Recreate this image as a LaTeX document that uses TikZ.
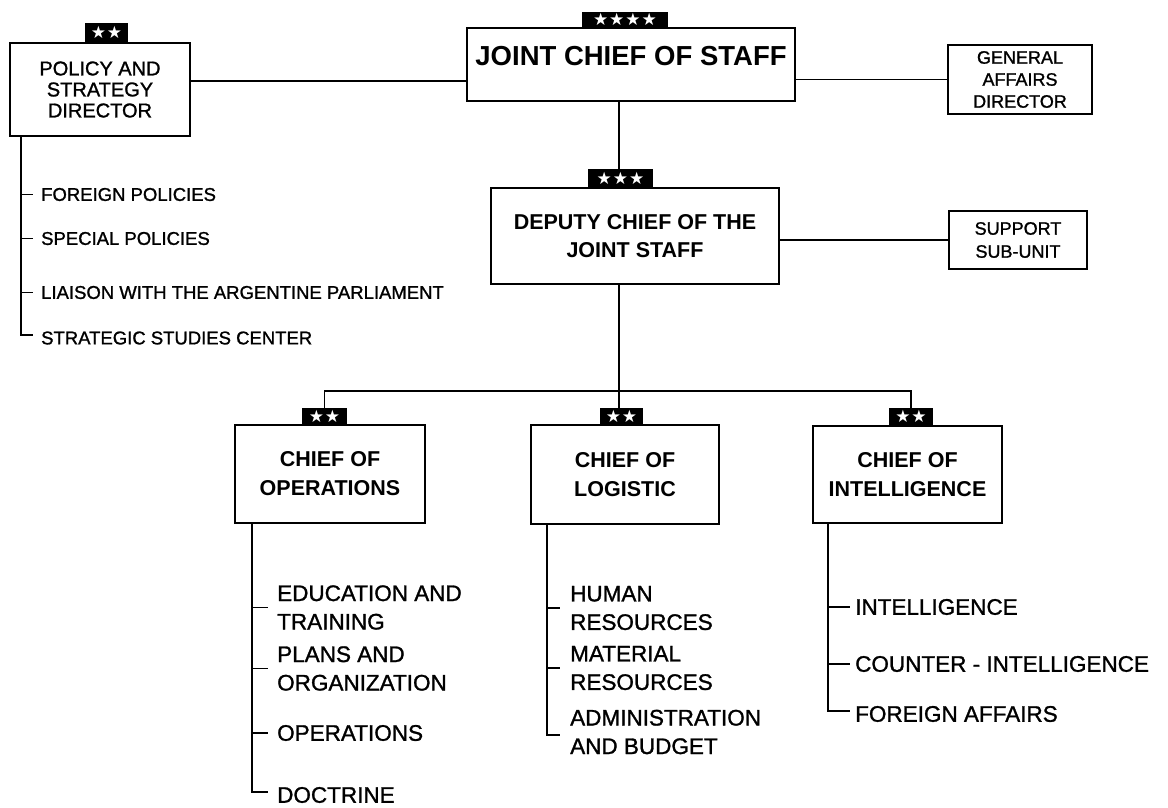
\documentclass[tikz,border=0pt]{standalone}
\usepackage{fontspec}
\setmainfont{Liberation Sans}
\newfontfamily\medfont[FakeBold=1.2]{Liberation Sans}
\newfontfamily\starfont{DejaVu Sans}
\begin{document}
\begin{tikzpicture}[x=1pt,y=-1pt,
  box/.style={draw, line width=1.6pt, fill=white, inner sep=0pt, align=center},
  badge/.style={fill=black, inner sep=0pt, text=white, anchor=south,
    font=\starfont\fontsize{17}{17}\selectfont},
  item/.style={anchor=west, inner sep=0pt, align=left},
  conn/.style={line width=1.6pt},
  thinconn/.style={line width=1.2pt},
  smalltxt/.style={font=\medfont\fontsize{18.5}{18.5}\selectfont},
  listtxt/.style={font=\medfont\fontsize{22.5}{28.5}\selectfont},
  chieftxt/.style={font=\bfseries\fontsize{21.5}{29}\selectfont}
]
\useasboundingbox (0,0) rectangle (1168,807);

% ---- badges ----
\node[badge, minimum width=43pt, minimum height=20pt] (pb) at (106.5,43) {★\kern1pt★};
\node[badge, minimum width=86pt, minimum height=16pt] (jb) at (625,28) {★\kern1pt★\kern1pt★\kern1pt★};
\node[badge, minimum width=65pt, minimum height=19pt] (db) at (620.5,188) {★\kern1pt★\kern1pt★};
\node[badge, minimum width=45pt, minimum height=17pt] (ob) at (324.5,425) {★\kern1pt★};
\node[badge, minimum width=43pt, minimum height=17pt] (lb) at (621.5,425) {★\kern1pt★};
\node[badge, minimum width=44pt, minimum height=18pt] (ib) at (911,426) {★\kern1pt★};

% ---- boxes ----
\node[box, minimum width=180pt, minimum height=93pt,
  font=\medfont\fontsize{20}{21}\selectfont] (pol) at (100,89.5) {POLICY AND\\STRATEGY\\DIRECTOR};
\node[box, minimum width=328pt, minimum height=73pt, text depth=18pt,
  font=\bfseries\fontsize{27.5}{27.5}\selectfont] (jcs) at (631,64.5) {JOINT CHIEF OF STAFF};
\node[box, minimum width=144pt, minimum height=69pt,
  font=\medfont\fontsize{18}{22}\selectfont] (ga) at (1020,79.5) {GENERAL\\AFFAIRS\\DIRECTOR};
\node[box, minimum width=288pt, minimum height=96pt,
  font=\bfseries\fontsize{21.5}{28}\selectfont] (dep) at (635,236) {DEPUTY CHIEF OF THE\\JOINT STAFF};
\node[box, minimum width=138pt, minimum height=58pt,
  font=\medfont\fontsize{18}{23}\selectfont] (sup) at (1018,240) {SUPPORT\\SUB-UNIT};
\node[box, chieftxt, minimum width=190pt, minimum height=98pt] (ops) at (330,474) {CHIEF OF\\OPERATIONS};
\node[box, chieftxt, minimum width=188pt, minimum height=99pt] (log) at (625,474.5) {CHIEF OF\\LOGISTIC};
\node[box, chieftxt, minimum width=189pt, minimum height=97pt] (int) at (907.5,474.5) {CHIEF OF\\INTELLIGENCE};

% ---- main connectors ----
\coordinate (spine) at (619,391);
\draw[conn] ([yshift=8.5pt]pol.east) -- ([yshift=8.5pt]pol.east -| jcs.west);
\draw[conn] (jcs.east |- ga.west) -- (ga.west);
\draw[conn] (jcs.south -| spine) -- (db.north -| spine);
\draw[thinconn] (dep.east |- sup.west) -- (sup.west);
\draw[conn] (dep.south -| spine) -- (lb.north -| spine);
\draw[conn] (ob.north) -- (ob.north |- spine) -- (ib.north |- spine) -- (ib.north);

% ---- policy list ----
\node[item, smalltxt] (p1) at (41,194.5) {FOREIGN POLICIES};
\node[item, smalltxt] (p2) at (41,238.5) {SPECIAL POLICIES};
\node[item, smalltxt] (p3) at (41,292.5) {LIAISON WITH THE ARGENTINE PARLIAMENT};
\node[item, smalltxt] (p4) at (41,338) {STRATEGIC STUDIES CENTER};
\coordinate (pv) at ([xshift=12pt]pol.south west);
\draw[conn] (pv) |- ([xshift=-8pt,yshift=3pt]p4.west);
\foreach \k in {p1,p2,p3}
  \draw[conn] (pv |- \k.west) -- ([xshift=-8pt]\k.west);

% ---- operations list ----
\node[item, listtxt] (o1) at (277,607.5) {EDUCATION AND\\TRAINING};
\node[item, listtxt] (o2) at (277,668.5) {PLANS AND\\ORGANIZATION};
\node[item, listtxt] (o3) at (277,733) {OPERATIONS};
\node[item, listtxt] (o4) at (277,795) {DOCTRINE};
\coordinate (ov) at ([xshift=18pt]ops.south west);
\draw[conn] (ov) |- ([xshift=-9pt,yshift=3pt]o4.west);
\foreach \k in {o1,o2,o3}
  \draw[conn] (ov |- \k.west) -- ([xshift=-9pt]\k.west);

% ---- logistic list ----
\node[item, listtxt] (l1) at (570,608) {HUMAN\\RESOURCES};
\node[item, listtxt] (l2) at (570,668) {MATERIAL\\RESOURCES};
\node[item, listtxt] (l3) at (570,732) {ADMINISTRATION\\AND BUDGET};
\coordinate (lv) at ([xshift=17pt]log.south west);
\draw[conn] (lv) |- ([xshift=-10pt,yshift=-3pt]l3.west);
\foreach \k in {l1,l2}
  \draw[conn] (lv |- \k.west) -- ([xshift=-10pt]\k.west);

% ---- intelligence list ----
\node[item, listtxt] (i1) at (855,607) {INTELLIGENCE};
\node[item, listtxt] (i2) at (855,664) {COUNTER - INTELLIGENCE};
\node[item, listtxt] (i3) at (855,714) {FOREIGN AFFAIRS};
\coordinate (iv) at ([xshift=16pt]int.south west);
\draw[conn] (iv) |- ([xshift=-5pt,yshift=3pt]i3.west);
\foreach \k in {i1,i2}
  \draw[conn] (iv |- \k.west) -- ([xshift=-5pt]\k.west);
\end{tikzpicture}
\end{document}
